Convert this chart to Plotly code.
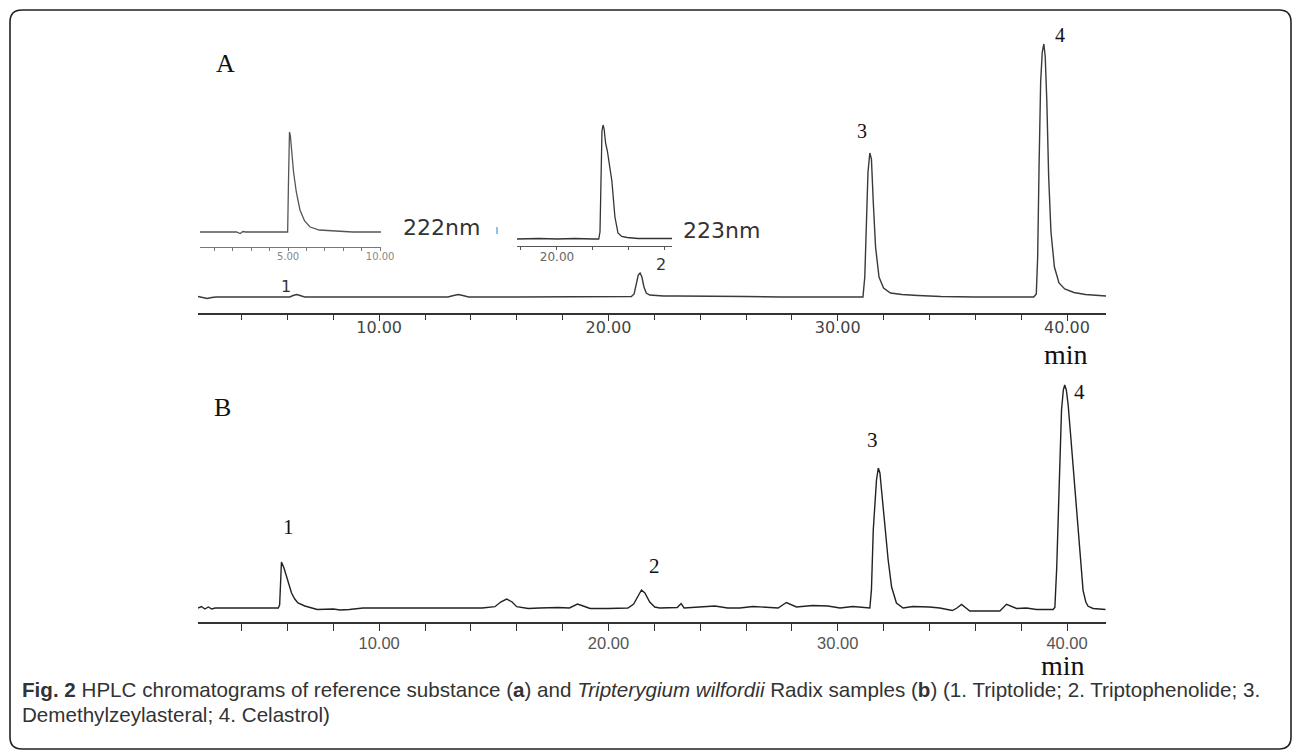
import plotly.graph_objects as go

W, H = 1293, 751

# ---------------- DATA ----------------
# Panel A main chromatogram (time min, signal a.u.)
a_time = [2.1, 2.3, 2.5, 2.7, 2.9, 4.0, 5.5, 6.1, 6.25, 6.4, 6.55, 6.75, 8.0, 10.0, 12.0, 13.0, 13.25, 13.45,
          13.65, 13.9, 16.0, 18.0, 20.0, 21.0, 21.12, 21.22, 21.3, 21.38, 21.46, 21.55, 21.65, 21.8, 22.0, 22.4,
          23.0, 24.0, 25.0, 26.0, 27.5, 29.0, 30.5, 31.1, 31.18, 31.25, 31.32, 31.4, 31.47, 31.55, 31.65,
          31.8, 32.0, 32.3, 32.8, 33.5, 34.5, 36.0, 37.5, 38.55, 38.66, 38.72, 38.78, 38.85, 38.92, 38.99,
          39.05, 39.12, 39.2, 39.3, 39.45, 39.65, 39.9, 40.3, 40.8, 41.3, 41.7]
a_sig = [0.5, -0.5, -1.5, -0.5, 0, 0, 0, 0, 1.5, 2.5, 1.5, 0, 0, 0, 0, 0, 1.5, 2.5,
         1.5, 0, 0, 0.5, 0.5, 0.5, 3, 14, 22, 24, 20, 10, 4, 2, 1.5, 1,
         1, 1, 0.5, 0.5, 0, 0, 0, 0, 20, 70, 125, 144, 138, 95, 50,
         20, 9, 4, 2.5, 1.5, 0.5, 0, 0, 0, 3, 40, 130, 215, 245, 253,
         240, 195, 120, 65, 30, 14, 8, 4.5, 2.5, 1.5, 1]

# Inset 1 (222 nm)
i1_time = [0.22, 1.5, 2.2, 2.4, 2.55, 2.7, 4.0, 4.98, 5.03, 5.08, 5.13, 5.2, 5.3, 5.45, 5.65, 5.9, 6.2, 6.7,
           7.4, 8.5, 10.05]
i1_sig = [0, 0, 0, -1.5, 0.5, 0, 0, 0, 55, 100, 96, 78, 60, 40, 22, 11, 5, 2,
          1, 0, 0]

# Inset 2 (223 nm)
i2_time = [17.78, 19.0, 20.0, 21.0, 22.0, 22.32, 22.39, 22.45, 22.5, 22.56, 22.62, 22.7, 22.8, 22.95, 23.05,
           23.22, 23.39, 23.6, 23.9, 24.5, 25.5, 26.39]
i2_sig = [0, 0.5, 0, 0.5, 0, 0, 7, 82, 108, 114, 110, 96, 88, 70, 58,
          22, 6, 2.5, 1.5, 0.5, 0.5, 0.5]

# Panel B chromatogram
b_time = [2.1, 2.25, 2.4, 2.55, 2.7, 2.85, 4.0, 5.0, 5.6, 5.66, 5.74, 5.85, 5.96, 6.07, 6.18, 6.32, 6.46,
          6.76, 7.1, 7.3, 8.0, 8.3, 8.7, 9.1, 9.3, 11.0, 12.5, 14.5, 15.05, 15.3, 15.56, 15.8, 16.0, 16.2,
          16.5, 17.0, 17.8, 18.3, 18.5, 18.65, 18.9, 19.2, 20.0, 20.85, 21.1, 21.3, 21.44, 21.59, 21.8,
          22.02, 22.24, 23.0, 23.17, 23.3, 23.6, 24.2, 24.64, 25.2, 25.73, 26.3, 26.9, 27.4, 27.76, 28.2,
          28.9, 29.57, 30.1, 30.66, 31.4, 31.47, 31.55, 31.62, 31.69, 31.77, 31.84, 31.91, 32.05, 32.2,
          32.35, 32.56, 32.85, 33.28, 34.0, 34.45, 35.0, 35.2, 35.4, 35.6, 35.76, 36.5, 37.07, 37.36, 37.6,
          37.8, 38.23, 38.67, 39.39, 39.47, 39.55, 39.61, 39.69, 39.76, 39.84, 39.9, 39.97, 40.05, 40.15,
          40.27, 40.38, 40.48, 40.6, 40.7, 40.82, 40.92, 41.14, 41.68]
b_sig = [0, 1.5, -1, 1, -1, 0, 0, 0, 0, 3, 46, 40, 31, 22, 15, 9, 5,
         2, 0, -1.5, -1, -2, -1.5, -1, 0, 0, 0, 0, 1.3, 6, 9, 6, 1.3, 0.5,
         -0.5, 0, 0.5, 0, 2.5, 4, 2, -0.5, -0.5, 0, 4, 12, 18, 15, 6,
         1, 0, 0.5, 4.5, 0, 0.5, 2, 2, 0, 0, 1.5, 1, 0, 5.5, 1,
         2.5, 2, 0, 1.5, 0, 18, 78, 110, 128, 140, 135, 118, 81, 48,
         21, 5, 0, 1.5, 1, 0, -2.5, 0, 3.5, 0, -3, -3, -3, 3.7, 1,
         -0.5, 0, -1.5, -1.5, 0.5, 40, 93, 160, 198, 218, 223, 218, 203, 175,
         140, 105, 73, 40, 17.7, 6, 1.7, -0.5, -1.5]

# Tick labels
main_tickvals = [10, 20, 30, 40]
main_ticktext = ["10.00", "20.00", "30.00", "40.00"]
i1_tickvals = [5, 10]
i1_ticktext = ["5.00", "10.00"]
i2_tickvals = [20]
i2_ticktext = ["20.00"]

# Peak labels: (time, signal height, text)
a_peak_labels = [(5.95, 10, "1"), (22.3, 32, "2")]
a_peak_labels_serif = [(31.05, 166, "3"), (39.7, 262, "4")]
b_peak_labels = [(6.06, 81, "1"), (22.02, 42, "2"), (31.53, 168, "3"), (40.56, 216, "4")]

caption1 = ("<b>Fig. 2</b> HPLC chromatograms of reference substance (<b>a</b>) and <i>Tripterygium wilfordii</i> "
            "Radix samples (<b>b</b>) (1. Triptolide; 2. Triptophenolide; 3.")
caption2 = "Demethylzeylasteral; 4. Celastrol)"


# ---------------- LAYOUT HELPERS ----------------
def px(x):
    return x / W


def py(y):
    return 1 - y / H


LINE = "#333333"
WIDE = "DejaVu Sans, Verdana, sans-serif"
SERIF = "Liberation Serif, Times New Roman, serif"
SANS = "Liberation Sans, Arial, sans-serif"
TICKFONT_A = dict(family=WIDE, size=16, color="#444444")
TICKFONT_B = dict(family=SANS, size=16.5, color="#555555")
TICKFONT_I1 = dict(family=WIDE, size=10, color="#888888")
TICKFONT_I2 = dict(family=WIDE, size=12, color="#666666")

fig = go.Figure()
fig.add_trace(go.Scatter(x=a_time, y=a_sig, mode="lines", line=dict(color="#3a3a3a", width=1.4),
                         xaxis="x", yaxis="y", showlegend=False, hoverinfo="skip"))
fig.add_trace(go.Scatter(x=i1_time, y=i1_sig, mode="lines", line=dict(color="#555555", width=1.3),
                         xaxis="x2", yaxis="y2", showlegend=False, hoverinfo="skip"))
fig.add_trace(go.Scatter(x=i2_time, y=i2_sig, mode="lines", line=dict(color="#333333", width=1.3),
                         xaxis="x3", yaxis="y3", showlegend=False, hoverinfo="skip"))
fig.add_trace(go.Scatter(x=b_time, y=b_sig, mode="lines", line=dict(color="#222222", width=1.4),
                         xaxis="x4", yaxis="y4", showlegend=False, hoverinfo="skip"))


def xaxis_cfg(x0, x1, rng, anchor, tickvals, ticktext, font, ticklen, minor_dtick, minor_len, lw, standoff=0,
              linecolor=LINE):
    return dict(domain=[px(x0), px(x1)], range=rng, anchor=anchor, showline=True, linecolor=linecolor,
                linewidth=lw, ticks="outside", ticklen=ticklen, tickcolor=linecolor, tickwidth=1,
                tickvals=tickvals, ticktext=ticktext, tickfont=font, showgrid=False, zeroline=False,
                ticklabelstandoff=standoff, automargin=False, fixedrange=True,
                minor=dict(ticks="outside", dtick=minor_dtick, tick0=0, ticklen=minor_len, tickcolor=linecolor,
                           showgrid=False))


def yaxis_cfg(y_bottom, y_top, rng, anchor):
    return dict(domain=[py(y_bottom), py(y_top)], range=rng, visible=False, anchor=anchor, fixedrange=True,
                automargin=False)


layout = dict(
    template="none",
    width=W, height=H, margin=dict(l=0, r=0, t=0, b=0, pad=0, autoexpand=False),
    paper_bgcolor="white", plot_bgcolor="rgba(0,0,0,0)", showlegend=False,
    xaxis=xaxis_cfg(198, 1106, [2.1, 41.7], "y", main_tickvals, main_ticktext, TICKFONT_A, 6, 2, 5, 1.6, -7),
    yaxis=yaxis_cfg(313, 20, [-16, 277], "x"),
    xaxis2=xaxis_cfg(200, 381, [0.22, 10.05], "y2", i1_tickvals, i1_ticktext, TICKFONT_I1, 3, 1, 3, 1.2, -3,
                     "#777777"),
    yaxis2=yaxis_cfg(247, 120, [-15, 112], "x2"),
    xaxis3=xaxis_cfg(517, 672, [17.78, 26.39], "y3", i2_tickvals, i2_ticktext, TICKFONT_I2, 3, 2, 3, 1.2, -4,
                     "#555555"),
    yaxis3=yaxis_cfg(246, 120, [-7, 119], "x3"),
    xaxis4=xaxis_cfg(198, 1106, [2.1, 41.7], "y4", main_tickvals, main_ticktext, TICKFONT_B, 7, 2, 7, 2.4, -2),
    yaxis4=yaxis_cfg(622, 370, [-14, 238], "x4"),
)
fig.update_layout(**layout)

ann = []
for t, s, txt in a_peak_labels:
    ann.append(dict(x=t, y=s, xref="x", yref="y", text=txt, showarrow=False, xanchor="center", yanchor="middle",
                    font=dict(family=WIDE, size=16, color="#333333")))
for t, s, txt in a_peak_labels_serif:
    ann.append(dict(x=t, y=s, xref="x", yref="y", text=txt, showarrow=False, xanchor="center", yanchor="middle",
                    font=dict(family=SERIF, size=20, color="#111111")))
for t, s, txt in b_peak_labels:
    ann.append(dict(x=t, y=s, xref="x4", yref="y4", text=txt, showarrow=False, xanchor="center",
                    yanchor="middle", font=dict(family=SERIF, size=21, color="#111111")))


def label(x, y, text, font):
    return dict(x=px(x), y=py(y), xref="paper", yref="paper", text=text, showarrow=False,
                xanchor="center", yanchor="middle", font=font)


ann += [
    label(225, 63, "A", dict(family=SERIF, size=26, color="#111111")),
    label(222, 407, "B", dict(family=SERIF, size=26, color="#111111")),
    label(1066, 354, "min", dict(family=SERIF, size=28, color="#111111")),
    label(1063, 665, "min", dict(family=SERIF, size=28, color="#111111")),
    label(441, 228, "222nm", dict(family=WIDE, size=22, color="#333333")),
    label(721, 230, "223nm", dict(family=WIDE, size=22, color="#333333")),
    dict(x=px(20), y=py(689), xref="paper", yref="paper", text=caption1, showarrow=False,
         xanchor="left", yanchor="middle", align="left",
         font=dict(family=SANS, size=20.6, color="#333333")),
    dict(x=px(20), y=py(714), xref="paper", yref="paper", text=caption2, showarrow=False,
         xanchor="left", yanchor="middle", align="left",
         font=dict(family=SANS, size=20.6, color="#333333")),
]
fig.update_layout(annotations=ann)

# Border (rounded frame) and small blue mark
x0, y0, x1, y1, r = px(10), py(10), px(1291), py(749), 12
rx, ry = r / W, r / H
path = (f"M {x0+rx},{y0} L {x1-rx},{y0} Q {x1},{y0} {x1},{y0-ry} L {x1},{y1+ry} Q {x1},{y1} {x1-rx},{y1} "
        f"L {x0+rx},{y1} Q {x0},{y1} {x0},{y1+ry} L {x0},{y0-ry} Q {x0},{y0} {x0+rx},{y0} Z")
fig.add_shape(type="path", path=path, xref="paper", yref="paper", line=dict(color="#222222", width=1.6))
fig.add_shape(type="line", x0=px(497), x1=px(497), y0=py(227), y1=py(234), xref="paper", yref="paper",
              line=dict(color="#8cc4ee", width=2))

# remove the browser's default 8px body margin so the figure fills the window exactly
fig.write_html("out.html", config={"displayModeBar": False, "staticPlot": True},
               post_script="document.body.style.margin='0';document.body.style.overflow='hidden';")
